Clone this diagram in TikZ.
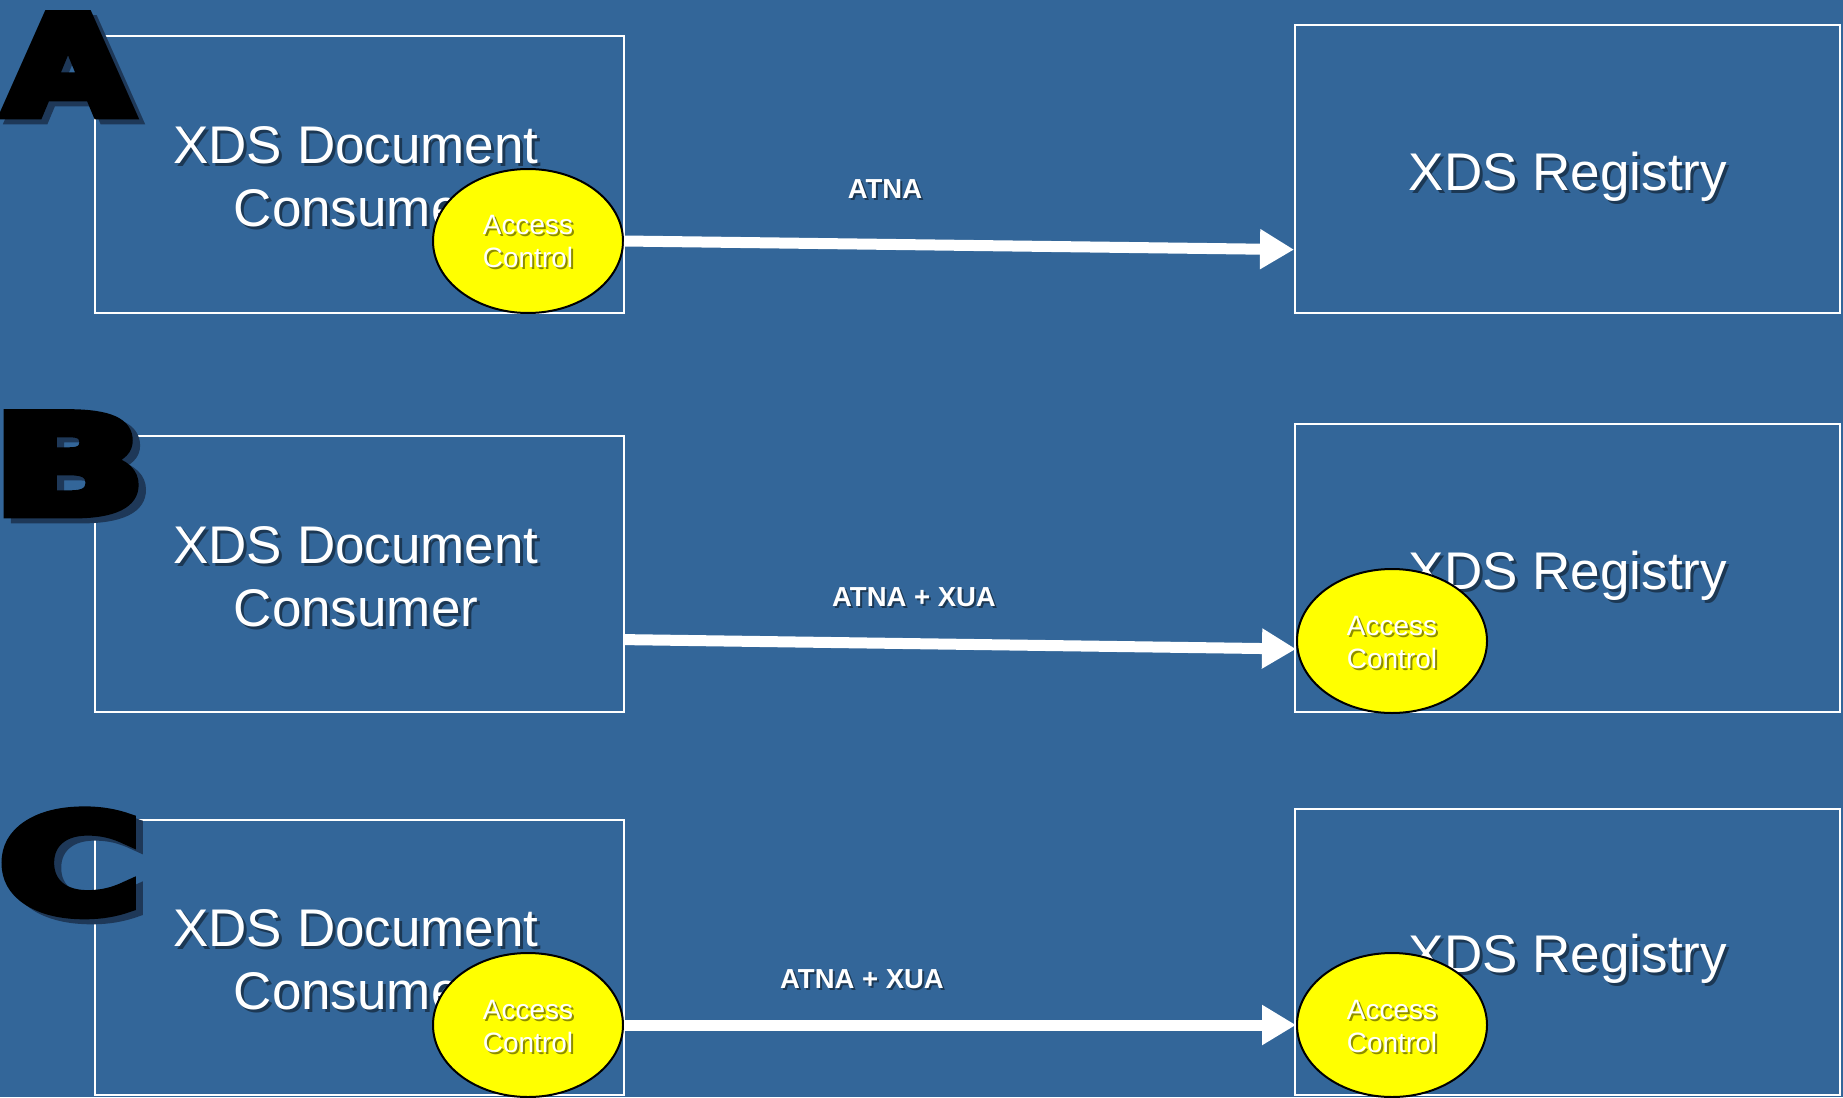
\documentclass[tikz,border=0pt]{standalone}
\usepackage{fontspec}
\setmainfont{Liberation Sans}
\newfontfamily\bigfont{DejaVu Sans}[UprightFont={* Bold}, FakeBold=8]
\usetikzlibrary{shapes.geometric,arrows.meta,calc}
\definecolor{bg}{RGB}{51,102,153}
\definecolor{ltrshadow}{RGB}{30,56,88}
\definecolor{acyellow}{RGB}{255,255,0}
\newcommand\shnode[5]{%
  \node[#2, text=black, text opacity=0.45, xshift=#5, yshift=-#5] at (#3) {#4};
  \node[#2] (#1) at (#3) {#4};
}
\newcommand\bigletter[4]{%
  \node[letterstyle, xscale=#4, text=ltrshadow, xshift=5pt, yshift=-5pt] at (#2) {#3};
  \node[letterstyle, xscale=#4] (#1) at (#2) {#3};
}
\tikzset{
  box/.style={draw=white, line width=2pt, rectangle, inner sep=0pt},
  consbox/.style={box, minimum width=529pt, minimum height=277pt},
  regbox/.style={box, minimum width=545pt, minimum height=288pt},
  boxtext/.style={text=white, align=center, inner sep=0pt, font=\fontsize{53}{63}\selectfont},
  acell/.style={ellipse, draw=black, line width=2pt, fill=acyellow, minimum width=190pt, minimum height=144pt, inner sep=0pt},
  actext/.style={text=white, align=center, inner sep=0pt, font=\fontsize{28}{33}\selectfont},
  lbl/.style={text=white, inner sep=0pt, font=\fontsize{27.5}{33}\selectfont\bfseries},
  flow/.style={draw=white, line width=11pt, -{Triangle[length=34pt,width=38pt]}},
  letterstyle/.style={anchor=base, inner sep=0pt, text=black, font=\fontsize{135}{145}\selectfont\bigfont},
}
\begin{document}
\begin{tikzpicture}[x=1pt,y=-1pt]
\fill[bg] (0,0) rectangle (1843,1097);
\useasboundingbox (0,0) rectangle (1843,1097);
\begin{scope}
\clip (0,0) rectangle (1843,1097);
% boxes
\node[consbox] (consA) at (359.5,174.5) {};
\node[regbox]  (regA)  at (1567.5,169) {};
\node[consbox, minimum height=276pt] (consB) at (359.5,574) {};
\node[regbox]  (regB)  at (1567.5,568) {};
\node[consbox, minimum height=275pt] (consC) at (359.5,957.5) {};
\node[regbox, minimum height=286pt]  (regC)  at (1567.5,952) {};
% box texts
\shnode{tconsA}{boxtext}{356,177}{XDS Document\\Consumer}{3pt}
\shnode{tregA}{boxtext}{1568,177}{XDS Registry}{3pt}
\shnode{tconsB}{boxtext}{356,577}{XDS Document\\Consumer}{3pt}
\shnode{tregB}{boxtext}{1568,576}{XDS Registry}{3pt}
\shnode{tconsC}{boxtext}{356,960}{XDS Document\\Consumer}{3pt}
\shnode{tregC}{boxtext}{1568,959}{XDS Registry}{3pt}
% access control ellipses
\node[acell] (acA)  at (528,241) {};
\node[acell] (acB)  at (1392,641) {};
\node[acell] (acCL) at (528,1025) {};
\node[acell] (acCR) at (1392,1025) {};
\shnode{tacA}{actext}{528,242}{Access\\Control}{2pt}
\shnode{tacB}{actext}{1392,642}{Access\\Control}{2pt}
\shnode{tacCL}{actext}{528,1026}{Access\\Control}{2pt}
\shnode{tacCR}{actext}{1392,1026}{Access\\Control}{2pt}
% arrows
\draw[flow] (acA.east) -- ($(regA.north west)!0.778!(regA.south west)$);
\draw[flow] ($(consB.north east)!0.736!(consB.south east)$) -- ($(acB.west)+(0,8)$);
\draw[flow] (acCL.east) -- (acCR.west);
% labels
\shnode{lblA}{lbl}{885,189}{ATNA}{2pt}
\shnode{lblB}{lbl}{914,597}{ATNA + XUA}{2pt}
\shnode{lblC}{lbl}{862,979}{ATNA + XUA}{2pt}
% big letters
\bigletter{letA}{68,114}{A}{1.2}
\bigletter{letB}{69,513}{B}{1.47}
\bigletter{letC}{70,912}{C}{1.42}
\end{scope}
\end{tikzpicture}
\end{document}
